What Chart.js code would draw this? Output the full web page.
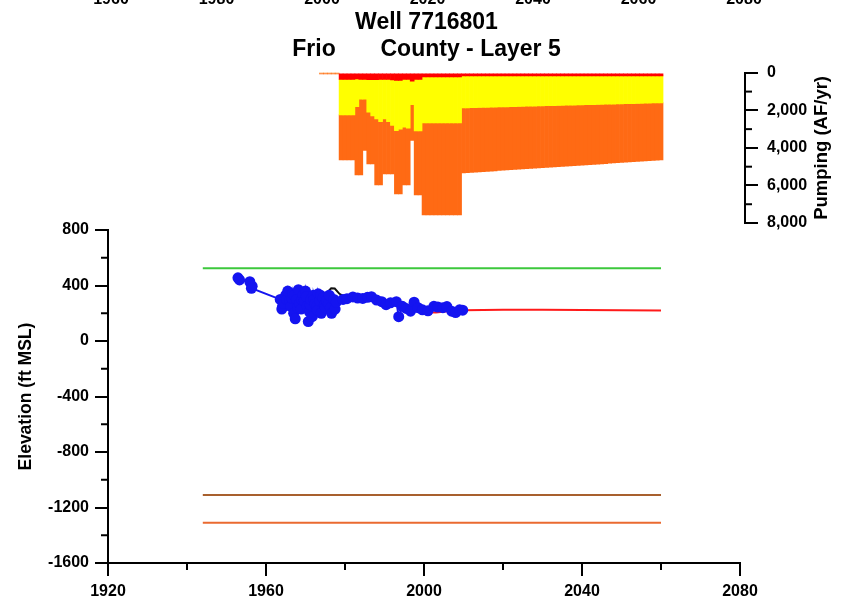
<!DOCTYPE html>
<html>
<head>
<meta charset="utf-8">
<title>Well 7716801</title>
<script src="https://cdn.jsdelivr.net/npm/chart.js@4.4.1/dist/chart.umd.min.js"></script>
<style>
  html, body { margin: 0; padding: 0; background: #fff; }
  #wrap { position: relative; width: 841px; height: 609px; overflow: hidden; }
  #wrap canvas { position: absolute; left: 0; top: 0; }
</style>
</head>
<body>
<div id="wrap">
  <canvas id="levels" width="841" height="609"></canvas>
  <canvas id="pumping" width="841" height="609"></canvas>
</div>
<script>
// ---- data ----
const titleLines = ['Well 7716801', 'Frio       County - Layer 5']
const cutLabels = ['1960', '1980', '2000', '2020', '2040', '2060', '2080'] // axis of the chart above, cut off

const xMinor = [1940, 1980, 2020, 2060]
const yMinor = [-1400, -1000, -600, -200, 200, 600]
const pumpMinor = [1000, 3000, 5000, 7000]

// horizontal reference lines
const refYears = [1944, 2060]
const greenLevel = [525, 525]
const brownLevel = [-1110, -1110]
const orangeLevel = [-1310, -1310]

// observed water levels (blue)
const obsYears = [1952.9, 1953.3, 1955.9, 1956.5, 1956.3, 1963.6, 1964.0, 1964.2, 1964.5, 1965.0,
  1965.2, 1965.5, 1966.0, 1966.3, 1966.5, 1966.7, 1967.0, 1967.2, 1967.4, 1967.8,
  1968.0, 1968.2, 1968.5, 1968.9, 1969.0, 1969.3, 1969.7, 1970.0, 1970.2, 1970.4,
  1970.7, 1971.0, 1971.2, 1971.4, 1971.7, 1972.0, 1972.2, 1972.4, 1972.8, 1973.0,
  1973.2, 1973.6, 1973.8, 1974.0, 1974.4, 1974.8, 1975.0, 1975.3, 1975.8, 1976.0,
  1976.3, 1976.6, 1977.2, 1977.5, 1977.8,
  1979.5, 1980.5, 1982.0, 1983.2, 1984.5, 1985.7, 1986.7, 1988.0, 1989.3, 1990.4,
  1991.5, 1993.0, 1993.6, 1994.5, 1995.5, 1996.6, 1997.5, 1998.5, 1999.6, 2001.0,
  2002.5, 2003.5, 2004.8, 2005.8, 2007.0, 2008.0, 2009.0, 2009.8]
const obsLevels = [455, 440, 427, 395, 380, 300, 230, 250, 270, 330,
  300, 360, 290, 250, 310, 340, 200, 330, 160, 300,
  240, 370, 270, 230, 300, 330, 290, 360, 320, 250,
  140, 210, 260, 300, 175, 330, 300, 270, 250, 220,
  340, 290, 330, 200, 310, 260, 240, 290, 270, 330,
  240, 200, 300, 230, 280,
  300, 305, 318, 310, 307, 315, 319, 295, 283, 262,
  275, 283, 175, 250, 235, 215, 280, 240, 225, 218,
  250, 245, 240, 248, 215, 205, 225, 222]

// simulated heads (black) and predicted heads (red)
const simYears = [1974.0, 1975.3, 1976.5, 1977.4, 1978.6, 1980.0, 1985, 1990, 1995, 1999]
const simLevels = [320, 345, 380, 378, 340, 318, 315, 280, 255, 225]
const predYears = [1999, 2001, 2003, 2006, 2010, 2020, 2030, 2040, 2050, 2060]
const predLevels = [215, 208, 205, 215, 222, 226, 225, 223, 221, 219]

// pumping by year, AF/yr, stacked red / yellow / orange
const pumpYears = []
for (let y = 1974; y <= 2060; y++) pumpYears.push(y)
const redPump = [0, 0, 0, 0, 0,
  350, 350, 350, 350, 330, 350, 350, 370, 370, 370, 350, 350, 350, 380, 400, 400, 350, 350, 450, 350, 350,
  220, 220, 220, 220, 220, 220, 220, 220, 220, 220,
  160, 160, 160, 160, 160, 160, 160, 160, 160, 160,
  160, 160, 160, 160, 160, 160, 160, 160, 160, 160,
  160, 160, 160, 160, 160, 160, 160, 160, 160, 160,
  160, 160, 160, 160, 160, 160, 160, 160, 160, 160,
  160, 160, 160, 160, 160, 160, 160, 160, 160, 160, 160]
const yellowPump = [0, 0, 0, 0, 0,
  1890, 1890, 1890, 1890, 1470, 1050, 1050, 1730, 1930, 2080, 2250, 2100, 2250, 2420, 2680, 2600, 2550, 2600, 1250, 2750, 2750,
  2450, 2450, 2450, 2450, 2450, 2450, 2450, 2450, 2450, 2450,
  1710, 1705, 1700, 1694, 1689, 1683, 1678, 1672, 1667, 1661,
  1656, 1650, 1645, 1640, 1634, 1629, 1623, 1618, 1612, 1607,
  1602, 1596, 1591, 1585, 1580, 1575, 1569, 1564, 1558, 1553,
  1548, 1542, 1537, 1531, 1526, 1521, 1515, 1510, 1504, 1499,
  1494, 1488, 1483, 1477, 1472, 1467, 1461, 1456, 1450, 1445, 1440]
const orangePump = [60, 60, 60, 60, 60,
  2400, 2400, 2400, 2400, 3640, 4040, 2740, 2750, 2550, 3520, 3370, 2940, 2790, 2590, 3370, 3450, 3070, 3020, 1900, 3400, 3400,
  4900, 4900, 4900, 4900, 4900, 4900, 4900, 4900, 4900, 4900,
  3460, 3452, 3443, 3435, 3426, 3418, 3410, 3401, 3393, 3384,
  3376, 3368, 3359, 3351, 3342, 3334, 3326, 3317, 3309, 3300,
  3292, 3284, 3275, 3267, 3258, 3250, 3242, 3233, 3225, 3216,
  3208, 3200, 3191, 3183, 3174, 3166, 3158, 3149, 3141, 3132,
  3124, 3116, 3107, 3099, 3090, 3082, 3074, 3065, 3057, 3048, 3040]

// ---- helpers ----
const pts = (xs, ys) => xs.map((x, i) => ({x: x, y: ys[i]}))
const FONT = "'Liberation Sans', Arial, sans-serif"
Chart.defaults.font.family = FONT
Chart.defaults.color = '#000'

const minorTicks = {
  id: 'minorTicks',
  afterDraw(chart, args, opts) {
    const ctx = chart.ctx
    ctx.save()
    ctx.strokeStyle = '#000'
    ctx.lineWidth = 2
    for (const m of opts.list || []) {
      const s = chart.scales[m.axis]
      for (const v of m.values) {
        const p = s.getPixelForValue(v)
        ctx.beginPath()
        if (s.isHorizontal()) { ctx.moveTo(p, s.top); ctx.lineTo(p, s.top + m.len) }
        else if (s.position === 'left') { ctx.moveTo(s.right, p); ctx.lineTo(s.right - m.len, p) }
        else { ctx.moveTo(s.left, p); ctx.lineTo(s.left + m.len, p) }
        ctx.stroke()
      }
    }
    ctx.restore()
  }
}

const extraText = {
  id: 'extraText',
  afterDraw(chart, args, opts) {
    const ctx = chart.ctx
    ctx.save()
    ctx.fillStyle = '#000'
    if (opts.cut) {
      ctx.font = 'bold 16px ' + FONT
      ctx.textAlign = 'center'
      ctx.textBaseline = 'alphabetic'
      cutLabels.forEach((t, i) => ctx.fillText(t, 111 + i * 105.5, 4))
    }
    if (opts.sideTitle) {
      const s = chart.scales.y
      ctx.font = 'bold 18.5px ' + FONT
      ctx.textAlign = 'center'
      ctx.textBaseline = 'middle'
      ctx.translate(822, (s.top + s.bottom) / 2)
      ctx.rotate(-Math.PI / 2)
      ctx.fillText(opts.sideTitle, 0, 0)
    }
    ctx.restore()
  }
}

const axisGrid = {drawOnChartArea: false, color: '#000', lineWidth: 2, tickLength: 13}
const axisBorder = {display: true, color: '#000', width: 2}
const tickFont = {size: 16, weight: 'bold'}

function flat(label, xs, ys, color) {
  return {label: label, data: pts(xs, ys), borderColor: color, borderWidth: 2, pointRadius: 0, tension: 0}
}

// ---- water levels ----
new Chart(document.getElementById('levels'), {
  type: 'line',
  data: {
    datasets: [
      {label: 'Observed', data: pts(obsYears, obsLevels), borderColor: '#1414f0', backgroundColor: '#1414f0',
        borderWidth: 2, pointRadius: 5.5, pointBorderWidth: 0, tension: 0},
      flat('Simulated', simYears, simLevels, '#111111'),
      flat('Predicted', predYears, predLevels, '#ff1a1a'),
      flat('Land surface', refYears, greenLevel, '#3cc83c'),
      flat('Layer top', refYears, brownLevel, '#a8602e'),
      flat('Layer bottom', refYears, orangeLevel, '#ea6a30')
    ]
  },
  options: {
    responsive: false, animation: false, devicePixelRatio: 1,
    layout: {padding: {top: 230, left: 0, right: 101, bottom: 0}},
    plugins: {legend: {display: false}, tooltip: {enabled: false},
      minorTicks: {list: [{axis: 'x', values: xMinor, len: 7}, {axis: 'y', values: yMinor, len: 7}]},
      extraText: {cut: true}},
    scales: {
      x: {type: 'linear', min: 1920, max: 2080,
        afterFit: s => { s.height = 46 },
        grid: axisGrid, border: axisBorder,
        ticks: {stepSize: 40, font: tickFont, padding: 6, maxRotation: 0, callback: v => String(v)}},
      y: {min: -1600, max: 800,
        afterFit: s => { s.width = 108 },
        grid: axisGrid, border: axisBorder,
        ticks: {stepSize: 400, font: tickFont, padding: 6, callback: v => String(v)},
        title: {display: true, text: 'Elevation (ft MSL)', font: {size: 17.5, weight: 'bold'}, padding: {top: 16, bottom: 0}}}
    }
  },
  plugins: [minorTicks, extraText]
})

// ---- pumping ----
new Chart(document.getElementById('pumping'), {
  type: 'bar',
  data: {
    datasets: [
      {label: 'Red', data: pts(pumpYears, redPump), backgroundColor: '#ff0000'},
      {label: 'Yellow', data: pts(pumpYears, yellowPump), backgroundColor: '#ffff00'},
      {label: 'Orange', data: pts(pumpYears, orangePump), backgroundColor: '#ff6a14'}
    ]
  },
  options: {
    responsive: false, animation: false, devicePixelRatio: 1,
    layout: {padding: {top: 0, left: 108, right: 0, bottom: 386}},
    datasets: {bar: {barPercentage: 1, categoryPercentage: 1, borderWidth: 0}},
    plugins: {legend: {display: false}, tooltip: {enabled: false},
      title: {display: true, text: titleLines, fullSize: false, color: '#000',
        font: {size: 23, weight: 'bold', lineHeight: 1.17}, padding: {top: 9, bottom: 10}},
      minorTicks: {list: [{axis: 'y', values: pumpMinor, len: 7}]},
      extraText: {sideTitle: 'Pumping (AF/yr)'}},
    scales: {
      // pumping axis sits a few pixels right of the 2080 end of the lower chart
      x: {type: 'linear', min: 1920, max: 2081.25, display: false, stacked: true, offset: false},
      y: {position: 'right', reverse: true, min: 0, max: 8000, stacked: true,
        afterFit: s => { s.width = 96 },
        grid: axisGrid, border: axisBorder,
        ticks: {stepSize: 2000, font: tickFont, padding: 9, callback: v => v.toLocaleString('en-US')}}
    }
  },
  plugins: [minorTicks, extraText]
})
</script>
</body>
</html>
